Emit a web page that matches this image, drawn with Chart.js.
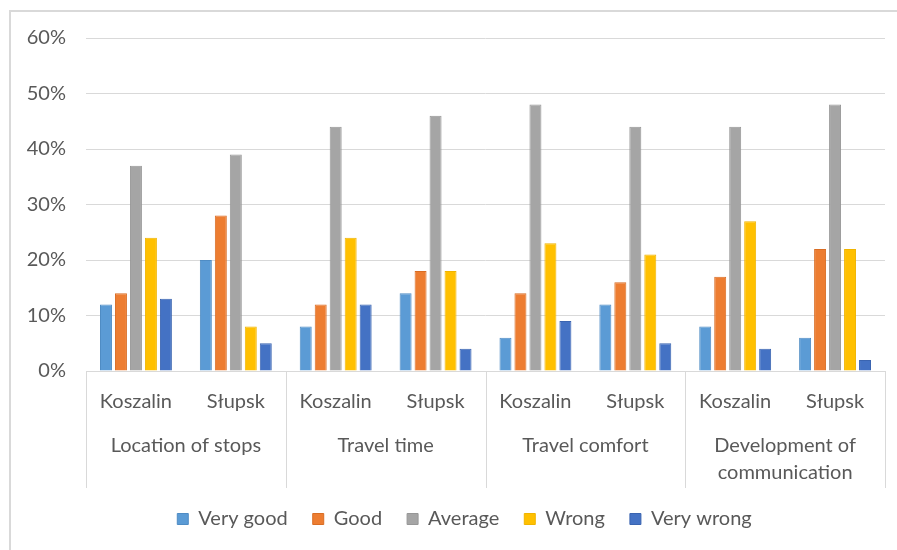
<!DOCTYPE html>
<html>
<head>
<meta charset="utf-8">
<script src="https://cdn.jsdelivr.net/npm/chart.js@4.4.1/dist/chart.umd.min.js"></script>
<style>
  html, body { margin: 0; padding: 0; background: #ffffff; }
  #wrap { position: relative; width: 897px; height: 550px; overflow: hidden; }
  #frame { position: absolute; left: 9px; top: 10px; width: 900px; height: 560px;
           border-left: 2px solid #d9d9d9; border-top: 2px solid #d9d9d9; box-sizing: border-box; }
  canvas { position: absolute; left: 0; top: 0; }
</style>
</head>
<body>
<div id="wrap">
  <div id="frame"></div>
  <canvas id="chart" width="897" height="550"></canvas>
</div>
<script>
// Survey ratings of public transport, by aspect and town (percent of answers)
const groups = [['Location of stops'], ['Travel time'], ['Travel comfort'], ['Development of', 'communication']];
const towns = ['Koszalin', 'Słupsk'];
const categories = ['Koszalin', 'Słupsk', 'Koszalin', 'Słupsk', 'Koszalin', 'Słupsk', 'Koszalin', 'Słupsk'];

const veryGood  = [12, 20,  8, 14,  6, 12,  8,  6];
const good      = [14, 28, 12, 18, 14, 16, 17, 22];
const average   = [37, 39, 44, 46, 48, 44, 44, 48];
const wrong     = [24,  8, 24, 18, 23, 21, 27, 22];
const veryWrong = [13,  5, 12,  4,  9,  5,  4,  2];

const yTicks = [0, 10, 20, 30, 40, 50, 60];

const FONT = 'Lato, "Open Sans", sans-serif';
const SIZE = 20;
const TEXT = '#595959';
const LINE = '#d9d9d9';
const SEP_DEPTH = 117;   // length of the category separators below the axis
const LEGEND_SHIFT = 22; // the legend is centred on the full chart frame, which runs past the right edge

// Second level of the category axis: separators and aspect names
const groupAxis = {
  id: 'groupAxis',
  afterDraw(chart) {
    const x = chart.scales.x;
    const area = chart.chartArea;
    const ctx = chart.ctx;
    const half = (x.getPixelForValue(1) - x.getPixelForValue(0)) / 2;
    ctx.save();
    ctx.strokeStyle = LINE;
    ctx.lineWidth = 1;
    for (let g = 0; g <= groups.length; g++) {
      const px = Math.round(x.getPixelForValue(g * towns.length) - half) + 0.5;
      ctx.beginPath();
      ctx.moveTo(px, area.bottom);
      ctx.lineTo(px, area.bottom + SEP_DEPTH);
      ctx.stroke();
    }
    ctx.fillStyle = TEXT;
    ctx.font = SIZE + 'px ' + FONT;
    ctx.textAlign = 'center';
    ctx.textBaseline = 'middle';
    groups.forEach((lines, g) => {
      const cx = (x.getPixelForValue(g * 2) + x.getPixelForValue(g * 2 + 1)) / 2;
      lines.forEach((t, i) => ctx.fillText(t, cx, area.bottom + 75 + i * 27));
    });
    ctx.restore();
  }
};

const legendShift = {
  id: 'legendShift',
  afterLayout(chart) {
    chart.legend.left += LEGEND_SHIFT;
    chart.legend.right += LEGEND_SHIFT;
  }
};

const mk = (label, data, color, border) => ({
  label, data, backgroundColor: color, borderColor: border, borderWidth: 1,
  categoryPercentage: 0.75, barPercentage: 0.8
});

new Chart(document.getElementById('chart'), {
  type: 'bar',
  data: {
    labels: categories,
    datasets: [
      mk('Very good', veryGood, '#5b9bd5', '#4f8cc4'),
      mk('Good', good, '#ed7d31', '#d96d24'),
      mk('Average', average, '#a5a5a5', '#979797'),
      mk('Wrong', wrong, '#ffc000', '#f0b400'),
      mk('Very wrong', veryWrong, '#4472c4', '#3a64b0')
    ]
  },
  options: {
    responsive: false,
    animation: false,
    layout: { padding: { left: 0, right: 12, top: 38, bottom: 11 } },
    plugins: {
      legend: {
        position: 'bottom',
        labels: {
          color: TEXT, font: { family: FONT, size: SIZE },
          boxWidth: 11, boxHeight: 11, padding: 25
        }
      },
      tooltip: { enabled: false }
    },
    scales: {
      x: {
        grid: { display: false, drawTicks: false },
        border: { display: true, color: LINE, width: 1 },
        ticks: { color: TEXT, font: { family: FONT, size: SIZE }, padding: 19, maxRotation: 0, autoSkip: false },
        afterFit(scale) { scale.height = 113; }
      },
      y: {
        min: 0, max: 60,
        afterBuildTicks(scale) { scale.ticks = yTicks.map(v => ({ value: v })); },
        grid: { color: LINE, lineWidth: 1, drawTicks: false },
        border: { display: false },
        ticks: { color: TEXT, font: { family: FONT, size: SIZE }, padding: 20, callback: v => v + '%' },
        afterFit(scale) { scale.width = 86; }
      }
    }
  },
  plugins: [groupAxis, legendShift]
});
</script>
</body>
</html>
